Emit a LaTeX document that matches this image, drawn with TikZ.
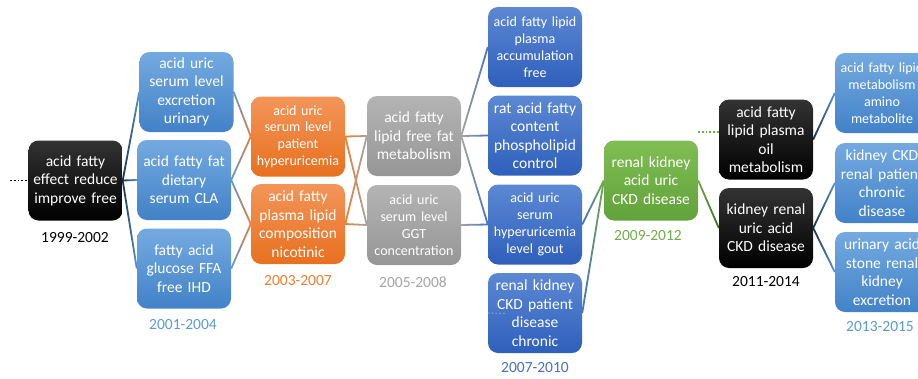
\documentclass[tikz,border=0pt]{standalone}
\usepackage{fontspec}
\setmainfont{Carlito}
\usetikzlibrary{calc}
\pgfdeclarelayer{bg}
\pgfsetlayers{bg,main}
\definecolor{blkT}{HTML}{333333}
\definecolor{blkB}{HTML}{000000}
\definecolor{lbT}{HTML}{74AAE0}
\definecolor{lbB}{HTML}{4282C8}
\definecolor{orT}{HTML}{F39559}
\definecolor{orB}{HTML}{E8701F}
\definecolor{grT}{HTML}{B4B4B4}
\definecolor{grB}{HTML}{969696}
\definecolor{dbT}{HTML}{5C88D3}
\definecolor{dbB}{HTML}{2F5FBC}
\definecolor{gnT}{HTML}{80BD55}
\definecolor{gnB}{HTML}{62A23A}
\definecolor{cBlk}{HTML}{1E3550}
\definecolor{cLB}{HTML}{5B9BD5}
\definecolor{cOr}{HTML}{ED7D31}
\definecolor{cGr}{HTML}{A5A5A5}
\definecolor{cDB}{HTML}{4472C4}
\definecolor{cGn}{HTML}{70AD47}
\definecolor{cGnD}{HTML}{3F6A25}
\definecolor{cBl2}{HTML}{17314D}
\newcommand{\gradconn}[4]{%
  \shade[left color=#3, right color=#4]
    ($(#1)!0.9pt!90:(#2)$) -- ($(#2)!0.9pt!-90:(#1)$) --
    ($(#2)!0.9pt!90:(#1)$) -- ($(#1)!0.9pt!-90:(#2)$) -- cycle;}
\tikzset{
  box/.style={rounded corners=10pt, text width=94pt, inner xsep=0pt, inner ysep=1pt,
    minimum height=80pt, align=center, text=white,
    font=\fontsize{15.5}{18.5}\selectfont},
  smallt/.style={font=\fontsize{14}{16.8}\selectfont},
  bk/.style={box, top color=blkT, bottom color=blkB},
  lb/.style={box, top color=lbT, bottom color=lbB},
  orbox/.style={box, top color=orT, bottom color=orB},
  grbox/.style={box, top color=grT, bottom color=grB},
  db/.style={box, top color=dbT, bottom color=dbB},
  gn/.style={box, top color=gnT, bottom color=gnB},
  yr/.style={font=\fontsize{15.5}{18.5}\selectfont, inner sep=0pt},
  dotstub/.style={line width=1.8pt, dash pattern=on 1.8pt off 2pt}
}
\begin{document}
\begin{tikzpicture}[x=1pt, y=-1pt]
\useasboundingbox (0,0) rectangle (918,378);
\clip (0,0) rectangle (918,378);
% column 1
\node[bk] (n1) at (75.5,180.5) {acid fatty\\effect reduce\\improve free};
\node[yr, text=black] (y1) at (75,238) {1999-2002};
% column 2
\node[lb] (a) at (186.5,92) {acid uric\\serum level\\excretion\\urinary};
\node[lb] (b) at (184,180) {acid fatty fat\\dietary\\serum CLA};
\node[lb] (c) at (184,268.5) {fatty acid\\glucose FFA\\free IHD};
\node[yr, text=cLB] (y2) at (183,325) {2001-2004};
% column 3
\node[orbox, smallt] (d) at (298,136.5) {acid uric\\serum level\\patient\\hyperuricemia};
\node[orbox] (e) at (298,224) {acid fatty\\plasma lipid\\composition\\nicotinic};
\node[yr, text=cOr] (y3) at (298,281) {2003-2007};
% column 4
\node[grbox] (f) at (414,136) {acid fatty\\lipid free fat\\metabolism};
\node[grbox, smallt] (g) at (414,225) {acid uric\\serum level\\GGT\\concentration};
\node[yr, text=cGr] (y4) at (413,282) {2005-2008};
% column 5
\node[db, smallt] (h) at (535,47) {acid fatty lipid\\plasma\\accumulation\\free};
\node[db] (i) at (535,135.5) {rat acid fatty\\content\\phospholipid\\control};
\node[db, smallt] (j) at (535,224.5) {acid uric\\serum\\hyperuricemia\\level gout};
\node[db] (k) at (535,313) {renal kidney\\CKD patient\\disease\\chronic};
\node[yr, text=cDB] (y5) at (535,368) {2007-2010};
% column 6
\node[gn] (l) at (651,180.5) {renal kidney\\acid uric\\CKD disease};
\node[yr, text=cGn] (y6) at (648,236) {2009-2012};
% column 7
\node[bk] (m) at (766,139.5) {acid fatty\\lipid plasma\\oil\\metabolism};
\node[bk] (n) at (766,228) {kidney renal\\uric acid\\CKD disease};
\node[yr, text=black] (y7) at (766,282) {2011-2014};
% column 8
\node[lb, smallt] (o) at (882,93) {acid fatty lipid\\metabolism\\amino\\metabolite};
\node[lb] (p) at (882,183) {kidney CKD\\renal patient\\chronic\\disease};
\node[lb] (q) at (882,272) {urinary acid\\stone renal\\kidney\\excretion};
\node[yr, text=cLB] (y8) at (880,327) {2013-2015};
% dotted stubs
\coordinate (s1) at (10,180.5);
\draw[dotstub, black] (s1) -- (n1.west);
\coordinate (s2) at (698,132);
\draw[dotstub, cGn] (s2) -- (s2 -| m.west);
\coordinate (s4) at (506,313.5);
\draw[dotstub, line width=1.4pt, white, opacity=0.25] (k.west) -- (s4);
% connectors
\begin{pgfonlayer}{bg}
\gradconn{n1.east}{a.west}{cBl2}{cLB}
\gradconn{n1.east}{b.west}{cBl2}{cLB}
\gradconn{n1.east}{c.west}{cBl2}{cLB}
\gradconn{a.east}{d.west}{cLB}{cOr}
\gradconn{b.east}{d.west}{cLB}{cOr}
\gradconn{b.east}{e.west}{cLB}{cOr}
\gradconn{c.east}{e.west}{cLB}{cOr}
\gradconn{d.east}{f.west}{cOr}{cGr}
\gradconn{d.east}{g.west}{cOr}{cGr}
\gradconn{e.east}{f.west}{cOr}{cGr}
\gradconn{e.east}{g.west}{cOr}{cGr}
\gradconn{f.east}{h.west}{cGr}{cDB}
\gradconn{f.east}{i.west}{cGr}{cDB}
\gradconn{f.east}{j.west}{cGr}{cDB}
\gradconn{g.east}{j.west}{cGr}{cDB}
\gradconn{j.east}{l.west}{cDB}{cGn}
\gradconn{k.east}{l.west}{cDB}{cGn}
\gradconn{l.east}{n.west}{cGn}{cGnD}
\gradconn{m.east}{o.west}{cBl2}{cLB}
\gradconn{n.east}{p.west}{cBl2}{cLB}
\gradconn{n.east}{q.west}{cBl2}{cLB}
\end{pgfonlayer}
\end{tikzpicture}
\end{document}
